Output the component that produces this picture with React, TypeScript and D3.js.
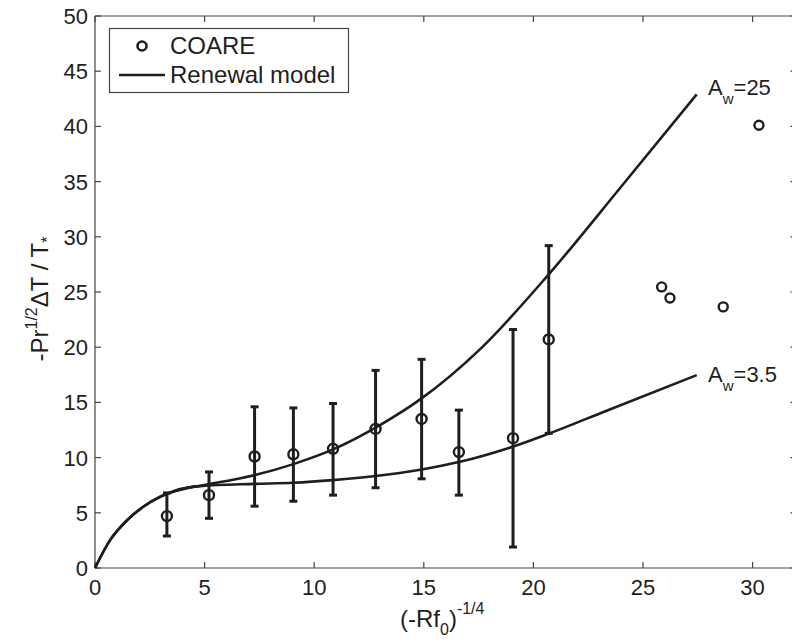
import React from "react";
import * as d3 from "d3";

// COARE binned data with error bars
const coareX = [3.28, 5.2, 7.28, 9.05, 10.86, 12.8, 14.9, 16.6, 19.07, 20.7];
const coareY = [4.7, 6.6, 10.1, 10.3, 10.8, 12.6, 13.5, 10.5, 11.76, 20.7];
const coareLow = [2.9, 4.5, 5.6, 6.05, 6.6, 7.27, 8.08, 6.6, 1.9, 12.2];
const coareHigh = [6.8, 8.7, 14.6, 14.5, 14.9, 17.9, 18.9, 14.3, 21.6, 29.2];

// isolated COARE points (no error bars)
const extraX = [25.85, 26.23, 28.66, 30.29];
const extraY = [25.46, 24.46, 23.65, 40.1];

// Renewal model, A_w = 25
const upperX = [0, 0.68, 1.45, 2.2, 2.97, 3.73, 4.93, 7.3, 9.05, 10.86, 13.0, 14.9, 17.56, 20.7, 24.03, 27.45];
const upperY = [0, 2.5, 4.3, 5.55, 6.45, 7.06, 7.5, 8.42, 9.41, 10.74, 12.94, 15.36, 19.8, 26.6, 34.6, 42.9];

// Renewal model, A_w = 3.5
const lowerX = [0, 0.68, 1.45, 2.2, 2.97, 3.73, 4.8, 7.3, 9.05, 10.86, 12.8, 14.9, 16.65, 19.08, 20.68, 23.34, 27.45];
const lowerY = [0, 2.5, 4.3, 5.55, 6.45, 7.0, 7.42, 7.62, 7.72, 7.96, 8.33, 8.93, 9.62, 11.0, 12.15, 14.25, 17.47];

const xTicks = [0, 5, 10, 15, 20, 25, 30];
const yTicks = [0, 5, 10, 15, 20, 25, 30, 35, 40, 45, 50];

const W = 792;
const H = 643;
const FONT = "'Liberation Sans', Arial, sans-serif";
const INK = "#1e1e1e";
const AXIS = "#444";

export default function App() {
  const x = d3.scaleLinear().domain([0, 32]).range([95, 95 + 32 * 21.92]);
  const y = d3.scaleLinear().domain([0, 50]).range([568, 16]);

  const line = d3
    .line<[number, number]>()
    .x((d) => x(d[0]))
    .y((d) => y(d[1]))
    .curve(d3.curveMonotoneX);

  const upper = upperX.map((v, i) => [v, upperY[i]] as [number, number]);
  const lower = lowerX.map((v, i) => [v, lowerY[i]] as [number, number]);

  const x0 = x.range()[0];
  const x1 = x.range()[1];
  const y0 = y.range()[0];
  const y1 = y.range()[1];
  const tickLen = 6;
  const capW = 4;

  return (
    <svg
      width={W}
      height={H}
      style={{ position: "absolute", left: 0, top: 0, background: "#fff" }}
      fontFamily={FONT}
    >
      <rect x={0} y={0} width={W} height={H} fill="#fff" />
      {/* axes box */}
      <g stroke={AXIS} strokeWidth={1.2} fill="none">
        <line x1={x0} y1={y0} x2={x1} y2={y0} />
        <line x1={x0} y1={y1} x2={x1} y2={y1} />
        <line x1={x0} y1={y0} x2={x0} y2={y1} />
        <line x1={x1} y1={y0} x2={x1} y2={y1} />
        {xTicks.map((t) => (
          <g key={"xt" + t}>
            <line x1={x(t)} x2={x(t)} y1={y0} y2={y0 - tickLen} />
            <line x1={x(t)} x2={x(t)} y1={y1} y2={y1 + tickLen} />
          </g>
        ))}
        {yTicks.map((t) => (
          <g key={"yt" + t}>
            <line x1={x0} x2={x0 + tickLen} y1={y(t)} y2={y(t)} />
            <line x1={x1} x2={x1 - tickLen} y1={y(t)} y2={y(t)} />
          </g>
        ))}
      </g>
      {/* tick labels */}
      <g fill={INK} fontSize={22}>
        {xTicks.map((t) => (
          <text key={"xl" + t} x={x(t)} y={595} textAnchor="middle">
            {t}
          </text>
        ))}
        {yTicks.map((t) => (
          <text key={"yl" + t} x={88} y={y(t) + 8} textAnchor="end">
            {t}
          </text>
        ))}
      </g>

      {/* model curves */}
      <path d={line(upper) || ""} fill="none" stroke={INK} strokeWidth={2.6} />
      <path d={line(lower) || ""} fill="none" stroke={INK} strokeWidth={2.6} />

      {/* error bars */}
      <g stroke={INK} strokeWidth={3} fill="none">
        {coareX.map((v, i) => (
          <g key={"eb" + i}>
            <line x1={x(v)} x2={x(v)} y1={y(coareLow[i])} y2={y(coareHigh[i])} />
            <line x1={x(v) - capW} x2={x(v) + capW} y1={y(coareLow[i])} y2={y(coareLow[i])} />
            <line x1={x(v) - capW} x2={x(v) + capW} y1={y(coareHigh[i])} y2={y(coareHigh[i])} />
          </g>
        ))}
      </g>
      {/* markers */}
      <g stroke={INK} strokeWidth={2.4} fill="none">
        {coareX.map((v, i) => (
          <circle key={"m" + i} cx={x(v)} cy={y(coareY[i])} r={5} />
        ))}
        {extraX.map((v, i) => (
          <circle key={"e" + i} cx={x(v)} cy={y(extraY[i])} r={4.5} />
        ))}
      </g>

      {/* curve annotations */}
      <g fill={INK}>
        <text x={708} y={95} fontSize={22}>
          A
          <tspan fontSize={15} dy={9}>w</tspan>
          <tspan dy={-9}>=25</tspan>
        </text>
        <text x={708} y={382} fontSize={22}>
          A
          <tspan fontSize={15} dy={9}>w</tspan>
          <tspan dy={-9}>=3.5</tspan>
        </text>
      </g>

      {/* legend */}
      <rect x={109.5} y={28.5} width={239} height={64} fill="#fff" stroke={AXIS} strokeWidth={1.2} />
      <circle cx={142} cy={46} r={4.5} fill="none" stroke={INK} strokeWidth={2.6} />
      <text x={170} y={54} fontSize={24} fill={INK}>COARE</text>
      <line x1={119} x2={165} y1={75} y2={75} stroke={INK} strokeWidth={2.6} />
      <text x={170} y={83} fontSize={24} fill={INK}>Renewal model</text>

      {/* x label */}
      <text x={400} y={627} fontSize={24} fill={INK}>
        (-Rf
        <tspan fontSize={16} dy={8}>0</tspan>
        <tspan dy={-8}>)</tspan>
        <tspan fontSize={16} dy={-13}>-1/4</tspan>
      </text>

      {/* y label */}
      <text
        transform={`translate(48, 299) rotate(-90)`}
        textAnchor="middle"
        fontSize={24}
        fill={INK}
      >
        -Pr
        <tspan fontSize={16} dy={-11}>1/2</tspan>
        <tspan dy={11}>ΔT / T</tspan>
        <tspan fontSize={16} dy={5}>*</tspan>
      </text>
    </svg>
  );
}
